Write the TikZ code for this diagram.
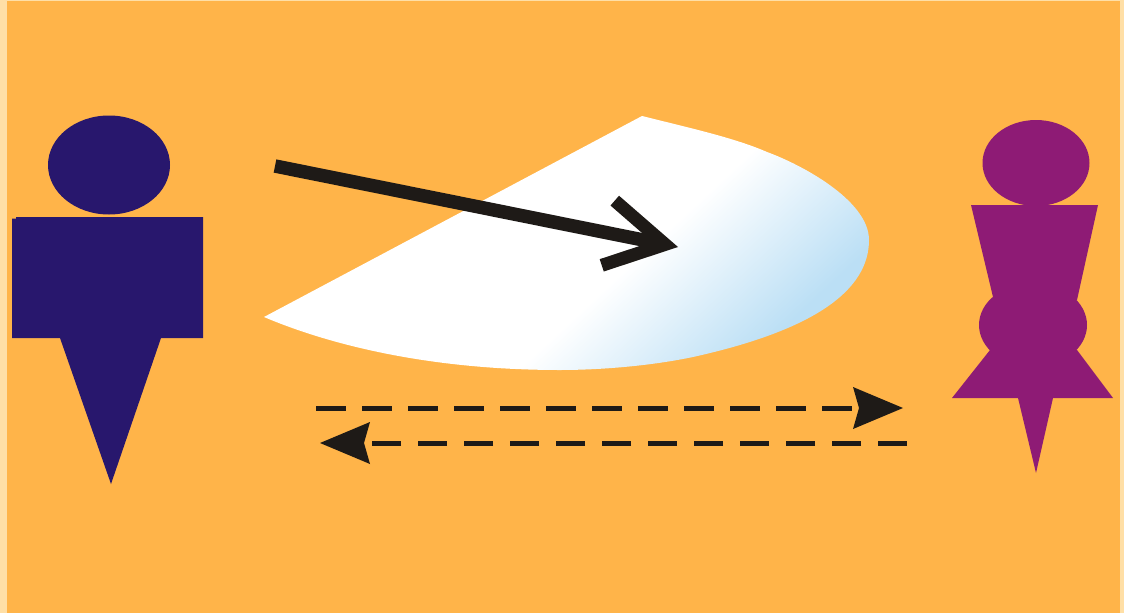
\documentclass[tikz,border=0pt]{standalone}
\usepackage{xcolor}
\usetikzlibrary{arrows.meta,positioning,calc}
\definecolor{scFrame}{HTML}{FFDFA6}
\definecolor{scOrange}{HTML}{FFB449}
\definecolor{scNavy}{HTML}{28176D}
\definecolor{scPurple}{HTML}{8E1B75}
\definecolor{scInk}{HTML}{1E1A17}
\definecolor{scSky}{HTML}{BBDFF5}
\pgfdeclarehorizontalshading{fansky}{100bp}{color(0bp)=(white); color(57bp)=(white);
  color(75bp)=(scSky); color(100bp)=(scSky)}
\tikzset{
  % Figure parts (sender, receiver)
  navypart/.style={fill=scNavy,draw=none},
  purplepart/.style={fill=scPurple,draw=none},
  % Beam towards the fan
  beam/.style={draw=scInk,line width=13.5pt,
    -{Straight Barb[length=58pt,width=66pt,line width=13pt]}},
  % Dashed exchange arrows
  arrd/.style={draw=scInk,line width=5pt,dash pattern=on 29.5pt off 16.5pt,
    -{Stealth[length=50pt,width=42pt,inset=6pt,line width=0pt]}},
}
\begin{document}
\begin{tikzpicture}[x=1pt,y=-1pt]
  \useasboundingbox (0,0) rectangle (1124,613);
  \fill[scFrame] (0,0) rectangle (1124,613);
  \fill[scOrange] (7,1) rectangle (1120,613);

  % left figure
  \fill[navypart] (109,165) ellipse [x radius=61,y radius=49.5];
  \fill[navypart] (12,218.5) -- (16,218.5) -- (16,217) -- (203,217) -- (203,338) -- (12,338) -- cycle;
  \fill[navypart] (60,338) -- (161,338) -- (111,484) -- cycle;

  % right figure
  \fill[purplepart] (1036,163) ellipse [x radius=53.5,y radius=43];
  \fill[purplepart] (971,205) -- (1098,205) -- (1077,300) -- (993,297) -- cycle;
  \fill[purplepart] (1033,325) ellipse [x radius=54,y radius=42];
  \fill[purplepart] (990,350) -- (1077,350) -- (1113,398) -- (1053,398)
    -- (1036,473) -- (1018,398) -- (952,398) -- cycle;

  % fan
  \shade[shading=fansky,shading angle=-47]
    (264,317) -- (642,116)
    .. controls (690,128) and (735,138) .. (767,152)
    .. controls (800,164) and (869,200) .. (869,240)
    .. controls (869,290) and (815,330) .. (693,357)
    .. controls (650,366) and (600,370) .. (560,370)
    .. controls (430,370) and (330,345) .. (264,317) -- cycle;

  \coordinate (beamstart) at (275,166);
  \coordinate (beamend) at (678,247);
  \coordinate (outstart) at (316,408);
  \coordinate (outend) at (903,408);
  \coordinate (backstart) at (907,443);
  \coordinate (backend) at (320,443);

  \draw[beam] (beamstart) -- (beamend);
  \draw[arrd] (outstart) -- (outend);
  \draw[arrd] (backstart) -- (backend);
\end{tikzpicture}
\end{document}
